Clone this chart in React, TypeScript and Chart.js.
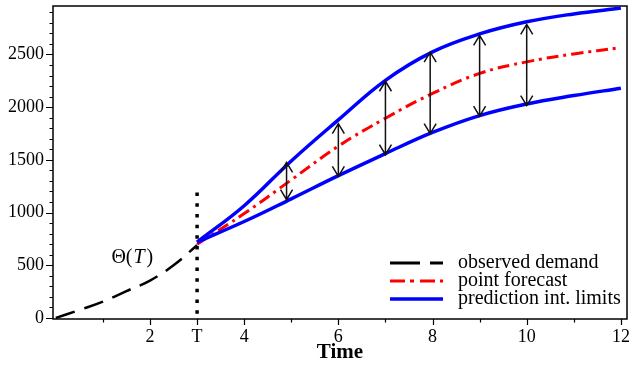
import React, { useEffect, useRef } from "react";
import { Chart, registerables } from "chart.js";

Chart.register(...registerables);

// ---- data ----
const obsX = [0, 0.5, 1, 1.5, 2, 2.5, 3];
const obsY = [0, 75, 155, 255, 355, 500, 690];

const fcX = [3, 4, 5, 6, 7, 8, 9, 10, 11, 12];
const fcY = [700, 990, 1310, 1630, 1895, 2130, 2320, 2430, 2505, 2565];
const upY = [720, 1065, 1490, 1880, 2255, 2525, 2695, 2810, 2885, 2940];
const loY = [720, 915, 1130, 1350, 1560, 1760, 1920, 2030, 2110, 2180];

const arrowX = [4.9, 6, 7, 7.95, 9, 10];
const arrowLo = [1122, 1343, 1549, 1749, 1914, 2015];
const arrowHi = [1476, 1844, 2246, 2522, 2681, 2785];

const dotX = [3, 3];
const dotY = [1190, 30];

const xTickValues = [2, 3, 4, 6, 8, 10, 12];
const xTickLabels = ["2", "T", "4", "6", "8", "10", "12"];
const xMinorTicks = [1, 5, 7, 9, 11];
const yTickValues = [0, 500, 1000, 1500, 2000, 2500];
const yMinorTicks = [100, 200, 300, 400, 600, 700, 800, 900, 1100, 1200, 1300, 1400, 1600, 1700, 1800, 1900, 2100, 2200, 2300, 2400, 2600, 2700, 2800, 2900];

const legendLabels = ["observed demand", "point forecast", "prediction int. limits"];
const thetaAnchor = { x: 1.18, y: 570 };

const SERIF = "'Liberation Serif', 'Times New Roman', serif";

const pts = (xs: number[], ys: number[]) => xs.map((x, i) => ({ x, y: ys[i] }));

const decorPlugin = {
  id: "decor",
  beforeDatasetsDraw(chart: any) {
    const { ctx, chartArea: a, scales } = chart;
    const xs = scales.x, ys = scales.y;
    ctx.save();
    ctx.strokeStyle = "#000";
    ctx.lineWidth = 1.5;
    ctx.strokeRect(a.left, a.top, a.right - a.left, a.bottom - a.top);
    // ticks
    ctx.lineWidth = 1.2;
    ctx.beginPath();
    yTickValues.forEach((v) => {
      const y = Math.round(ys.getPixelForValue(v)) + 0.5;
      ctx.moveTo(a.left - 7, y);
      ctx.lineTo(a.left, y);
    });
    yMinorTicks.forEach((v) => {
      const y = Math.round(ys.getPixelForValue(v)) + 0.5;
      ctx.moveTo(a.left - 3.5, y);
      ctx.lineTo(a.left, y);
    });
    xTickValues.forEach((v) => {
      const x = Math.round(xs.getPixelForValue(v)) + 0.5;
      ctx.moveTo(x, a.bottom);
      ctx.lineTo(x, a.bottom + 6);
    });
    xMinorTicks.forEach((v) => {
      const x = Math.round(xs.getPixelForValue(v)) + 0.5;
      ctx.moveTo(x, a.bottom);
      ctx.lineTo(x, a.bottom + 3.5);
    });
    ctx.stroke();
    ctx.restore();
  },
  afterDatasetsDraw(chart: any) {
    const { ctx, chartArea: a, scales } = chart;
    const xs = scales.x, ys = scales.y;
    ctx.save();
    // arrows
    ctx.strokeStyle = "#111";
    ctx.lineWidth = 1.5;
    ctx.lineCap = "butt";
    arrowX.forEach((v, i) => {
      const x = xs.getPixelForValue(v);
      const y1 = ys.getPixelForValue(arrowHi[i]);
      const y2 = ys.getPixelForValue(arrowLo[i]);
      ctx.beginPath();
      ctx.moveTo(x, y1);
      ctx.lineTo(x, y2);
      ctx.moveTo(x - 6, y1 + 10);
      ctx.lineTo(x, y1);
      ctx.lineTo(x + 6, y1 + 10);
      ctx.moveTo(x - 6, y2 - 10);
      ctx.lineTo(x, y2);
      ctx.lineTo(x + 6, y2 - 10);
      ctx.stroke();
    });
    // theta label
    const tx = xs.getPixelForValue(thetaAnchor.x);
    const ty = ys.getPixelForValue(thetaAnchor.y);
    ctx.fillStyle = "#000";
    ctx.textBaseline = "middle";
    ctx.textAlign = "left";
    ctx.font = `20px ${SERIF}`;
    let cx = tx;
    ctx.fillText("Θ(", cx, ty);
    cx += ctx.measureText("Θ(").width + 1;
    ctx.font = `italic 20px ${SERIF}`;
    ctx.fillText("T", cx, ty);
    cx += ctx.measureText("T").width + 2;
    ctx.font = `20px ${SERIF}`;
    ctx.fillText(")", cx, ty);

    // legend
    const lx0 = a.left + 337;
    const lx1 = a.left + 390;
    const ltx = a.left + 405;
    const rows = [a.top + 257, a.top + 275, a.top + 293];
    const styles = [
      { color: "#000", dash: [30, 10], width: 3 },
      { color: "#ff0000", dash: [15, 5, 4, 6], width: 3 },
      { color: "#0000ff", dash: [], width: 3.5 },
    ];
    rows.forEach((ry, i) => {
      const s = styles[i];
      ctx.beginPath();
      ctx.setLineDash(s.dash);
      ctx.strokeStyle = s.color;
      ctx.lineWidth = s.width;
      ctx.moveTo(lx0, ry);
      ctx.lineTo(lx1, ry);
      ctx.stroke();
      ctx.setLineDash([]);
      ctx.fillStyle = "#000";
      ctx.font = `20px ${SERIF}`;
      ctx.fillText(legendLabels[i], ltx, ry);
    });
    ctx.restore();
  },
};

export default function App() {
  const ref = useRef<HTMLCanvasElement | null>(null);
  useEffect(() => {
    document.body.style.margin = "0";
    if (!ref.current) return;
    const chart = new Chart(ref.current, {
      type: "line",
      data: {
        datasets: [
          {
            label: "dotted",
            data: pts(dotX, dotY),
            borderColor: "#000",
            borderWidth: 3.5,
            borderDash: [3.5, 7.2],
            pointRadius: 0,
            tension: 0,
          },
          {
            label: legendLabels[0],
            data: pts(obsX, obsY),
            borderColor: "#000",
            borderWidth: 2.5,
            borderDash: [20, 10],
            pointRadius: 0,
            tension: 0.4,
          },
          {
            label: "upper",
            data: pts(fcX, upY),
            borderColor: "#0000ff",
            borderWidth: 3.5,
            pointRadius: 0,
            tension: 0.4,
          },
          {
            label: "lower",
            data: pts(fcX, loY),
            borderColor: "#0000ff",
            borderWidth: 3.5,
            pointRadius: 0,
            tension: 0.4,
          },
          {
            label: legendLabels[1],
            data: pts(fcX, fcY),
            borderColor: "#ff0000",
            borderWidth: 3,
            borderDash: [12, 5, 3, 5],
            pointRadius: 0,
            tension: 0.4,
          },
        ],
      },
      options: {
        responsive: false,
        animation: false,
        devicePixelRatio: 1,
        layout: { padding: { top: 6, right: 11, left: 0, bottom: 0 } },
        plugins: { legend: { display: false }, tooltip: { enabled: false } },
        scales: {
          x: {
            type: "linear",
            min: -0.06,
            max: 12.13,
            afterFit: (s: any) => {
              s.height = 46;
              s.paddingLeft = 0;
              s.paddingRight = 0;
            },
            afterBuildTicks: (s: any) => {
              s.ticks = xTickValues.map((v) => ({ value: v }));
            },
            ticks: {
              autoSkip: false,
              maxRotation: 0,
              padding: 7,
              color: "#000",
              font: { family: SERIF, size: 18 },
              callback: (v: any) => {
                const i = xTickValues.indexOf(Number(v));
                return i >= 0 ? xTickLabels[i] : "";
              },
            },
            grid: { display: false, drawTicks: false },
            border: { display: false },
            title: {
              display: true,
              text: "Time",
              color: "#000",
              font: { family: SERIF, size: 21, weight: "bold" },
              padding: { top: 0, bottom: 0 },
            },
          },
          y: {
            type: "linear",
            min: -10,
            max: 2960,
            afterFit: (s: any) => {
              s.width = 53;
              s.paddingTop = 0;
              s.paddingBottom = 0;
            },
            afterBuildTicks: (s: any) => {
              s.ticks = yTickValues.map((v) => ({ value: v }));
            },
            ticks: {
              autoSkip: false,
              padding: 9,
              color: "#000",
              font: { family: SERIF, size: 18 },
              callback: (v: any) => String(v),
            },
            grid: { display: false, drawTicks: false },
            border: { display: false },
          },
        },
      },
      plugins: [decorPlugin],
    } as any);
    return () => chart.destroy();
  }, []);
  return (
    <div style={{ width: 638, height: 365 }}>
      <canvas ref={ref} width={638} height={365} style={{ width: 638, height: 365, display: "block" }} />
    </div>
  );
}
